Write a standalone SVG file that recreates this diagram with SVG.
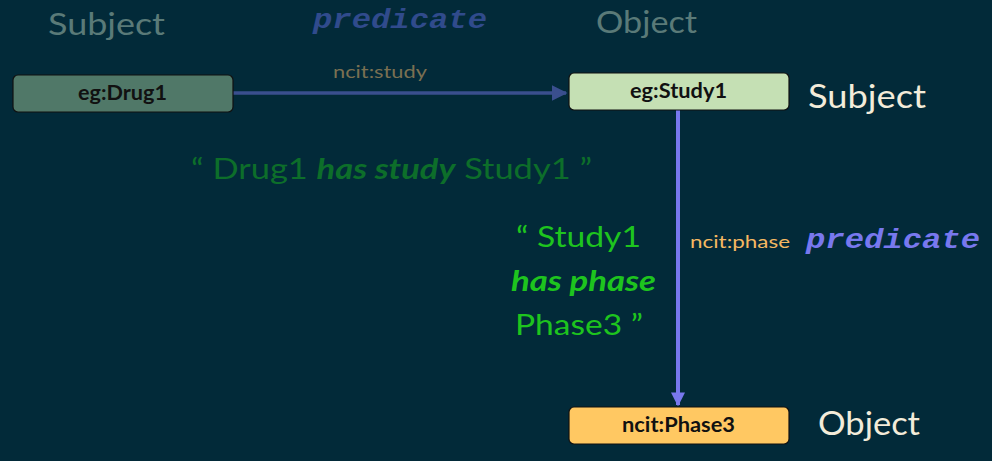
<svg xmlns="http://www.w3.org/2000/svg" width="992" height="461" viewBox="0 0 992 461">
<defs>
<style>
.t{font-family:Lato,"Open Sans","Liberation Sans",sans-serif}
.mono{font-family:"Liberation Mono","DejaVu Sans Mono",monospace;font-weight:bold;font-style:italic}
.node{stroke:#111;stroke-width:1.2}
.lbl{font-family:Lato,"Open Sans","Liberation Sans",sans-serif;font-weight:bold;font-size:20px;fill:#111}
</style>
<marker id="ah1" viewBox="0 0 10 10" refX="9" refY="5" markerWidth="4.5" markerHeight="4.5" orient="auto" markerUnits="strokeWidth"><path d="M0,0 L10,5 L0,10 z" fill="#3a4f8e"/></marker>
<marker id="ah2" viewBox="0 0 10 10" refX="9" refY="5" markerWidth="3.5" markerHeight="3.5" orient="auto" markerUnits="strokeWidth"><path d="M0,0 L10,5 L0,10 z" fill="#7878ee"/></marker>
</defs>
<rect width="992" height="461" fill="#022a39"/>
<text class="t" x="48" y="35" font-size="31" fill="#5a7a78" textLength="117" lengthAdjust="spacingAndGlyphs">Subject</text>
<text class="mono" x="313" y="28" font-size="27" fill="#304b8c" textLength="174" lengthAdjust="spacingAndGlyphs">predicate</text>
<text class="t" x="596" y="33" font-size="31" fill="#5a7a78" textLength="101" lengthAdjust="spacingAndGlyphs">Object</text>
<g id="connectors">
<line x1="233" y1="93" x2="566" y2="93" stroke="#3a4f8e" stroke-width="3.5" marker-end="url(#ah1)"/>
<line x1="678" y1="110" x2="678" y2="405" stroke="#7878ee" stroke-width="4" marker-end="url(#ah2)"/>
<text class="t" x="333" y="78" font-size="17" fill="#7a7052" textLength="94" lengthAdjust="spacingAndGlyphs">ncit:study</text>
<text class="t" x="690" y="248" font-size="17" fill="#f5b862" textLength="100" lengthAdjust="spacingAndGlyphs">ncit:phase</text>
</g>
<g id="drug1">
<rect class="node" x="13" y="75" width="220" height="37" rx="5" fill="#507868"/>
<text class="lbl" x="78" y="100" textLength="89" lengthAdjust="spacingAndGlyphs">eg:Drug1</text>
</g>
<g id="study1">
<rect class="node" x="569" y="73" width="220" height="37" rx="5" fill="#c5e0b4"/>
<text class="lbl" x="630" y="98" textLength="97" lengthAdjust="spacingAndGlyphs">eg:Study1</text>
</g>
<g id="phase3">
<rect class="node" x="569" y="407" width="220" height="37" rx="5" fill="#ffc862"/>
<text class="lbl" x="622" y="432" textLength="113" lengthAdjust="spacingAndGlyphs">ncit:Phase3</text>
</g>
<text class="t" x="808" y="108" font-size="33" fill="#f3ecda" textLength="118" lengthAdjust="spacingAndGlyphs">Subject</text>
<text class="t" x="818" y="435" font-size="33" fill="#f3ecda" textLength="102" lengthAdjust="spacingAndGlyphs">Object</text>
<text class="mono" x="806" y="248" font-size="27" fill="#7878ee" textLength="174" lengthAdjust="spacingAndGlyphs">predicate</text>
<text class="t" x="191" y="179" font-size="29" fill="#0d6e2a" textLength="401" lengthAdjust="spacingAndGlyphs">“ Drug1 <tspan font-style="italic" font-weight="bold">has study</tspan>  Study1 ”</text>
<g class="t" font-size="29" fill="#1ec41e">
<text x="516" y="247" textLength="125" lengthAdjust="spacingAndGlyphs">“ Study1</text>
<text x="511" y="291" font-style="italic" font-weight="bold" textLength="145" lengthAdjust="spacingAndGlyphs">has phase</text>
<text x="515" y="335" textLength="128" lengthAdjust="spacingAndGlyphs">Phase3 ”</text>
</g>
</svg>
